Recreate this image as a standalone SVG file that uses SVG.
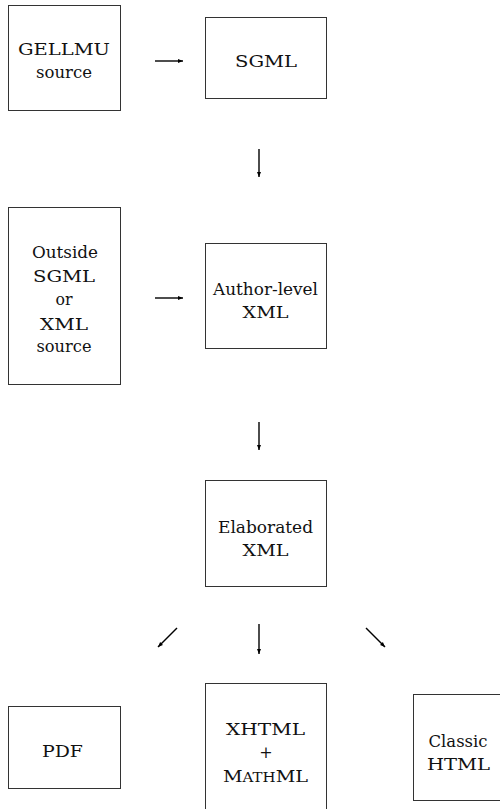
<svg xmlns="http://www.w3.org/2000/svg" width="500" height="809" viewBox="0 0 500 809">
<style>
rect{fill:#fff;stroke:#333;stroke-width:1}
text{font-family:'DejaVu Serif','Liberation Serif',serif;font-size:16px;fill:#111;text-anchor:middle}
.c line{stroke:#000;stroke-width:1.4}
</style>
<defs>
<marker id="ah" viewBox="0 0 10 10" refX="10" refY="5" markerWidth="5" markerHeight="5" orient="auto" markerUnits="userSpaceOnUse">
<path d="M0,1 L10,5 L0,9 Z" fill="#000"/>
</marker>
</defs>
<rect width="500" height="809" style="stroke:none"/>
<g id="gellmu"><rect x="8.5" y="5.5" width="112" height="105"/><text x="64" y="55" textLength="92" lengthAdjust="spacingAndGlyphs">GELLMU</text><text x="64" y="78" textLength="56" lengthAdjust="spacingAndGlyphs">source</text></g>
<g id="sgml"><rect x="205.5" y="17.5" width="121" height="81"/><text x="266" y="67" textLength="62" lengthAdjust="spacingAndGlyphs">SGML</text></g>
<g id="outside"><rect x="8.5" y="207.5" width="112" height="177"/><text x="65" y="258" textLength="66" lengthAdjust="spacingAndGlyphs">Outside</text><text x="64" y="282" textLength="62" lengthAdjust="spacingAndGlyphs">SGML</text><text x="64" y="305" textLength="17" lengthAdjust="spacingAndGlyphs">or</text><text x="64" y="330" textLength="48" lengthAdjust="spacingAndGlyphs">XML</text><text x="64" y="352" textLength="55" lengthAdjust="spacingAndGlyphs">source</text></g>
<g id="author"><rect x="205.5" y="243.5" width="121" height="105"/><text x="265.5" y="295" textLength="105" lengthAdjust="spacingAndGlyphs">Author-level</text><text x="265.5" y="318" textLength="46" lengthAdjust="spacingAndGlyphs">XML</text></g>
<g id="elab"><rect x="205.5" y="480.5" width="121" height="106"/><text x="265.5" y="533" textLength="95" lengthAdjust="spacingAndGlyphs">Elaborated</text><text x="265.5" y="556" textLength="46" lengthAdjust="spacingAndGlyphs">XML</text></g>
<g id="pdf"><rect x="8.5" y="706.5" width="112" height="82"/><text x="62.5" y="757" textLength="41" lengthAdjust="spacingAndGlyphs">PDF</text></g>
<g id="xhtml"><rect x="205.5" y="683.5" width="121" height="130"/><text x="265.5" y="735" textLength="79" lengthAdjust="spacingAndGlyphs">XHTML</text><text x="266" y="758">+</text><text x="265.5" y="782" textLength="85" lengthAdjust="spacingAndGlyphs">M<tspan font-size="12.5">ATH</tspan>ML</text></g>
<g id="classic"><rect x="413.5" y="694.5" width="100" height="106"/><text x="458" y="747" textLength="59" lengthAdjust="spacingAndGlyphs">Classic</text><text x="458.5" y="770" textLength="63" lengthAdjust="spacingAndGlyphs">HTML</text></g>
<g class="c" id="connectors">
<line x1="155" y1="61" x2="183" y2="61" marker-end="url(#ah)"/>
<line x1="259" y1="149" x2="259" y2="177" marker-end="url(#ah)"/>
<line x1="155" y1="298" x2="183" y2="298" marker-end="url(#ah)"/>
<line x1="259" y1="422" x2="259" y2="450" marker-end="url(#ah)"/>
<line x1="177" y1="628" x2="158" y2="647" marker-end="url(#ah)"/>
<line x1="259" y1="624" x2="259" y2="654" marker-end="url(#ah)"/>
<line x1="366" y1="628" x2="385" y2="647" marker-end="url(#ah)"/>
</g>
</svg>
